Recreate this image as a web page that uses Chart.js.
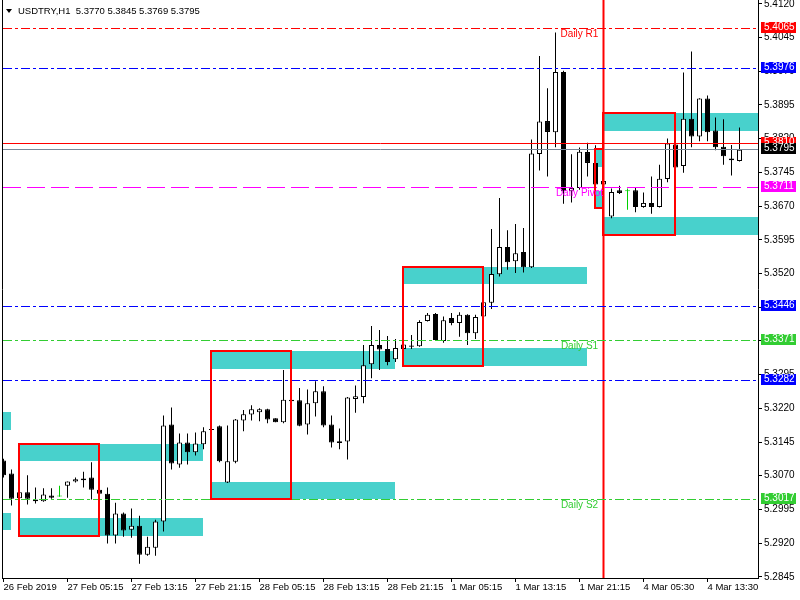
<!DOCTYPE html>
<html><head><meta charset="utf-8">
<script src="https://cdn.jsdelivr.net/npm/chart.js@4/dist/chart.umd.min.js"></script>
<style>html,body{margin:0;padding:0;background:#fff;}#wrap{width:800px;height:600px;position:relative;}</style>
</head><body><div id="wrap"><canvas id="c"></canvas></div>
<script>
// ---------- data ----------
const symbolTitle = 'USDTRY,H1  5.3770 5.3845 5.3769 5.3795';
const opens = [5.3104,5.3075,5.3020,5.3033,5.3017,5.3013,5.3026,5.3024,5.3048,5.3057,
5.3064,5.3066,5.3039,5.3030,5.2937,5.2986,5.2950,5.2959,5.2894,5.2910,
5.2968,5.3184,5.3095,5.3144,5.3122,5.3140,5.3174,5.3180,5.3055,5.3101,
5.3193,5.3206,5.3211,5.3218,5.3198,5.3189,5.3239,5.3238,5.3184,5.3231,
5.3258,5.3184,5.3147,5.3146,5.3241,5.3245,5.3318,5.3361,5.3352,5.3329,
5.3352,5.3360,5.3358,5.3414,5.3430,5.3370,5.3421,5.3410,5.3428,5.3387,
5.3424,5.3455,5.3518,5.3579,5.3547,5.3568,5.3534,5.3786,5.3859,5.3834,
5.3968,5.3703,5.3710,5.3790,5.3766,5.3718,5.3647,5.3705,5.3703,5.3705,
5.3668,5.3677,5.3668,5.3730,5.3807,5.3759,5.3864,5.3825,5.3909,5.3838,
5.3802,5.3776,5.3770];
const highs = [5.3108,5.3084,5.3033,5.3071,5.3044,5.3042,5.3042,5.3048,5.3057,5.3066,
5.3079,5.3100,5.3042,5.3044,5.3010,5.2988,5.2997,5.2981,5.2934,5.2972,
5.3204,5.3222,5.3164,5.3164,5.3166,5.3178,5.3175,5.3182,5.3182,5.3196,
5.3216,5.3227,5.3220,5.3219,5.3198,5.3305,5.3240,5.3265,5.3262,5.3280,
5.3269,5.3204,5.3175,5.3245,5.3271,5.3361,5.3403,5.3394,5.3381,5.3374,
5.3363,5.3383,5.3416,5.3432,5.3432,5.3424,5.3432,5.3434,5.3429,5.3428,
5.3457,5.3619,5.3688,5.3616,5.3630,5.3621,5.3818,5.4004,5.3932,5.4056,
5.3971,5.3785,5.3800,5.3811,5.3805,5.3727,5.3709,5.3715,5.3709,5.3710,
5.3700,5.3736,5.3762,5.3820,5.3809,5.3967,5.4014,5.3910,5.3916,5.3867,
5.3863,5.3806,5.3845];
const lows = [5.3066,5.3004,5.3019,5.3006,5.3008,5.3012,5.3019,5.3023,5.3021,5.3055,
5.3044,5.3017,5.3028,5.2919,5.2919,5.2934,5.2932,5.2874,5.2892,5.2892,
5.2946,5.3084,5.3088,5.3095,5.3115,5.3129,5.3171,5.3100,5.3054,5.3098,
5.3169,5.3193,5.3191,5.3187,5.3189,5.3187,5.3235,5.3180,5.3162,5.3202,
5.3178,5.3133,5.3129,5.3106,5.3210,5.3231,5.3287,5.3305,5.3316,5.3323,
5.3351,5.3352,5.3357,5.3413,5.3370,5.3366,5.3405,5.3379,5.3361,5.3374,
5.3423,5.3441,5.3513,5.3528,5.3521,5.3522,5.3532,5.3749,5.3736,5.3801,
5.3675,5.3678,5.3706,5.3736,5.3713,5.3717,5.3643,5.3697,5.3662,5.3656,
5.3666,5.3653,5.3667,5.3723,5.3755,5.3744,5.3801,5.3814,5.3814,5.3794,
5.3762,5.3738,5.3769];
const closes = [5.3071,5.3019,5.3033,5.3019,5.3013,5.3028,5.3021,5.3024,5.3057,5.3062,
5.3060,5.3039,5.3030,5.2937,5.2986,5.2948,5.2959,5.2894,5.2912,5.2968,
5.3182,5.3097,5.3144,5.3122,5.3142,5.3169,5.3172,5.3102,5.3102,5.3195,
5.3207,5.3218,5.3218,5.3195,5.3189,5.3239,5.3236,5.3181,5.3231,5.3258,
5.3182,5.3144,5.3143,5.3244,5.3247,5.3316,5.3361,5.3351,5.3323,5.3354,
5.3362,5.3357,5.3412,5.3428,5.3372,5.3416,5.3410,5.3428,5.3387,5.3423,
5.3456,5.3519,5.3579,5.3545,5.3565,5.3534,5.3787,5.3858,5.3835,5.3968,
5.3703,5.3710,5.3791,5.3766,5.3718,5.3726,5.3701,5.3699,5.3703,5.3668,
5.3677,5.3668,5.3731,5.3809,5.3756,5.3864,5.3825,5.3909,5.3834,5.3801,
5.3781,5.3772,5.3795];

const xTickPositions = [0,8,16,24,32,40,48,56,64,72,80,88];
const xTickLabels = ['26 Feb 2019','27 Feb 05:15','27 Feb 13:15','27 Feb 21:15','28 Feb 05:15','28 Feb 13:15',
  '28 Feb 21:15','1 Mar 05:15','1 Mar 13:15','1 Mar 21:15','4 Mar 05:30','4 Mar 13:30'];
const yTickValues = [5.2845,5.2920,5.2995,5.3070,5.3145,5.3220,5.3295,5.3370,5.3445,5.3520,
  5.3595,5.3670,5.3745,5.3820,5.3895,5.3970,5.4045,5.4120];
const xMin = -0.0625, xMax = 94.3125;
const yMin = 5.28425, yMax = 5.41284;

// horizontal levels (pivots, bid/ask)
const levelValues = [5.4065, 5.3976, 5.3810, 5.3795, 5.3711, 5.3446, 5.3371, 5.3282, 5.3017];
const levelNames  = ['Daily R1', '', '', '', 'Daily Pivot', '', 'Daily S1', '', 'Daily S2'];
const levelColors = ['#FF0000', '#0000FF', '#FF0000', '#778899', '#FF00FF', '#0000FF', '#32CD32', '#0000FF', '#32CD32'];
const levelTagColors = ['#FF0000', '#0000FF', '#FF0000', '#000000', '#FF00FF', '#0000FF', '#32CD32', '#0000FF', '#32CD32'];
const levelStyles = ['dashdot', 'dashdot', 'solid', 'solid', 'dash', 'dashdot', 'dashdot', 'dashdot', 'dashdot'];
const levelNameBar = 72;
const separatorBar = 75;

// supply/demand zones (cyan fills): bar from, bar to, price top, price bottom
const zoneFrom   = [-2, -2, 2, 2, 26, 26, 50, 50, 74, 74, 75, 75];
const zoneTo     = [1, 1, 25, 25, 49, 49, 73, 73, 75, 75, 98, 98];
const zoneTop    = [5.3211, 5.2988, 5.3141, 5.2975, 5.3347, 5.3057, 5.3535, 5.3354, 5.3797, 5.3704, 5.3878, 5.3646];
const zoneBottom = [5.3172, 5.2949, 5.3102, 5.2935, 5.3308, 5.3018, 5.3496, 5.3314, 5.3756, 5.3666, 5.3838, 5.3606];
// red session frames
const frameFrom   = [2, 26, 50, 74, 75];
const frameTo     = [12, 36, 60, 75, 84];
const frameTop    = [5.3141, 5.3347, 5.3535, 5.3797, 5.3878];
const frameBottom = [5.2935, 5.3018, 5.3314, 5.3666, 5.3606];

// ---------- chart ----------
const dashMap = {solid: [], dashdot: [9, 3, 3, 3], dash: [18, 6]};
const UP = '#FFFFFF', DOWN = '#000000', DOJI = '#00D000';
const bodyFill = opens.map((o, i) => closes[i] > o ? UP : (closes[i] < o ? DOWN : DOJI));
const bodyStroke = opens.map((o, i) => closes[i] === o ? DOJI : '#000000');
const wickColor = opens.map((o, i) => closes[i] === o ? DOJI : '#000000');

const AXIS_FONT = {family: 'Liberation Sans, Arial, sans-serif', size: 10};
const X_FONT = {family: 'Liberation Sans, Arial, sans-serif', size: 9.5};

const datasets = [];
levelValues.forEach((v, i) => datasets.push({
  type: 'line', label: 'level', data: [{x: xMin, y: v}, {x: xMax, y: v}],
  borderColor: levelColors[i], borderWidth: 1, borderDash: dashMap[levelStyles[i]],
  pointRadius: 0, fill: false, order: 0
}));
datasets.push({
  type: 'line', label: 'separator', data: [{x: separatorBar, y: yMin}, {x: separatorBar, y: yMax}],
  borderColor: '#FF0000', borderWidth: 2, pointRadius: 0, fill: false, order: 0
});
datasets.push({
  type: 'bar', label: 'body', data: opens.map((o, i) => ({x: i, y: [o, closes[i]]})),
  backgroundColor: bodyFill, borderColor: bodyStroke, borderWidth: 1, borderSkipped: false,
  barThickness: 5, minBarLength: 1, grouped: false, inflateAmount: 0, order: 1
});
datasets.push({
  type: 'bar', label: 'wick', data: lows.map((l, i) => ({x: i, y: [l, highs[i]]})),
  backgroundColor: wickColor, borderWidth: 0, barThickness: 1, grouped: false, inflateAmount: 0, order: 2
});

// snap 1px horizontal level lines onto the pixel grid (rendering only)
const snapLevels = {
  id: 'snapLevels',
  beforeDatasetDraw(chart, args) {
    const ds = chart.data.datasets[args.index];
    if (ds.label !== 'level') return;
    args.meta.data.forEach(pt => { pt.y = Math.floor(pt.y) + 0.5; });
  }
};

const decor = {
  id: 'decor',
  beforeDatasetsDraw(chart) {
    const {ctx, chartArea: a, scales: {x, y}} = chart;
    ctx.save();
    ctx.beginPath(); ctx.rect(a.left, a.top, a.right - a.left, a.bottom - a.top); ctx.clip();
    ctx.fillStyle = '#48D1CC';
    for (let i = 0; i < zoneFrom.length; i++) {
      const x0 = Math.round(x.getPixelForValue(zoneFrom[i]) - 0.5), x1 = Math.round(x.getPixelForValue(zoneTo[i]) - 0.5);
      const y0 = Math.round(y.getPixelForValue(zoneTop[i])), y1 = Math.round(y.getPixelForValue(zoneBottom[i]));
      ctx.fillRect(x0, y0, x1 - x0, y1 - y0);
    }
    ctx.restore();
  },
  afterDatasetsDraw(chart) {
    const {ctx, chartArea: a, scales: {x, y}} = chart;
    ctx.save();
    ctx.beginPath(); ctx.rect(a.left, a.top, a.right - a.left, a.bottom - a.top); ctx.clip();
    ctx.setLineDash([]);
    ctx.strokeStyle = '#FF0000'; ctx.lineWidth = 2;
    for (let i = 0; i < frameFrom.length; i++) {
      const x0 = Math.round(x.getPixelForValue(frameFrom[i]) - 0.5), x1 = Math.round(x.getPixelForValue(frameTo[i]) - 0.5);
      const y0 = Math.round(y.getPixelForValue(frameTop[i])), y1 = Math.round(y.getPixelForValue(frameBottom[i]));
      ctx.strokeRect(x0, y0, x1 - x0, y1 - y0);
    }
    ctx.font = '10px Liberation Sans, Arial, sans-serif';
    ctx.textAlign = 'center'; ctx.textBaseline = 'alphabetic';
    const nx = x.getPixelForValue(levelNameBar);
    levelValues.forEach((v, i) => {
      if (!levelNames[i]) return;
      ctx.fillStyle = levelColors[i];
      ctx.fillText(levelNames[i], nx, Math.floor(y.getPixelForValue(v)) + 9);
    });
    ctx.restore();
    ctx.save();
    ctx.setLineDash([]);
    ctx.strokeStyle = '#000'; ctx.lineWidth = 1;
    ctx.beginPath(); ctx.moveTo(a.left - 0.5, a.top); ctx.lineTo(a.left - 0.5, a.bottom + 1); ctx.stroke();
    ctx.restore();
  },
  afterDraw(chart) {
    const {ctx, chartArea: a, scales: {y}} = chart;
    ctx.save();
    ctx.font = '10px Liberation Sans, Arial, sans-serif';
    ctx.textAlign = 'left'; ctx.textBaseline = 'middle';
    levelValues.forEach((v, i) => {
      const row = Math.floor(y.getPixelForValue(v));
      ctx.fillStyle = levelTagColors[i];
      ctx.fillRect(a.right + 3, row - 6, 35, 11);
      ctx.fillStyle = '#FFFFFF';
      ctx.fillText(v.toFixed(4), a.right + 6, row - 0.5);
    });
    // title
    ctx.fillStyle = '#000';
    ctx.beginPath(); ctx.moveTo(6, 9); ctx.lineTo(12, 9); ctx.lineTo(9, 13); ctx.closePath(); ctx.fill();
    ctx.font = '9.5px Liberation Sans, Arial, sans-serif';
    ctx.textBaseline = 'alphabetic';
    ctx.fillText(symbolTitle, 18, 14);
    ctx.restore();
  }
};

new Chart(document.getElementById('c'), {
  type: 'bar',
  data: {datasets},
  options: {
    responsive: true, maintainAspectRatio: false, animation: false, events: [],
    layout: {padding: {left: 3, top: 0, right: 0, bottom: 0}},
    plugins: {legend: {display: false}, tooltip: {enabled: false}, title: {display: false}},
    scales: {
      x: {
        type: 'linear', min: xMin, max: xMax, offset: false,
        afterBuildTicks: s => { s.ticks = xTickPositions.map(v => ({value: v})); },
        afterFit: s => { s.height = 22; s.paddingLeft = 0; s.paddingRight = 0; },
        ticks: {
          autoSkip: false, maxRotation: 0, minRotation: 0, align: 'start', padding: 0,
          color: '#000', font: X_FONT,
          callback: v => xTickLabels[xTickPositions.indexOf(v)]
        },
        grid: {display: true, drawOnChartArea: false, drawTicks: true, tickLength: 4, color: '#000', tickColor: '#000', offset: false},
        border: {display: true, color: '#000', width: 1}
      },
      y: {
        type: 'linear', position: 'right', min: yMin, max: yMax,
        afterBuildTicks: s => { s.ticks = yTickValues.map(v => ({value: v})); },
        afterFit: s => { s.width = 42; s.paddingTop = 0; s.paddingBottom = 0; },
        ticks: {
          autoSkip: false, padding: 2, color: '#000', font: AXIS_FONT,
          callback: v => Number(v).toFixed(4)
        },
        grid: {display: true, drawOnChartArea: false, drawTicks: true, tickLength: 4, color: '#000', tickColor: '#000'},
        border: {display: true, color: '#000', width: 1}
      }
    }
  },
  plugins: [snapLevels, decor]
});
</script></body></html>
